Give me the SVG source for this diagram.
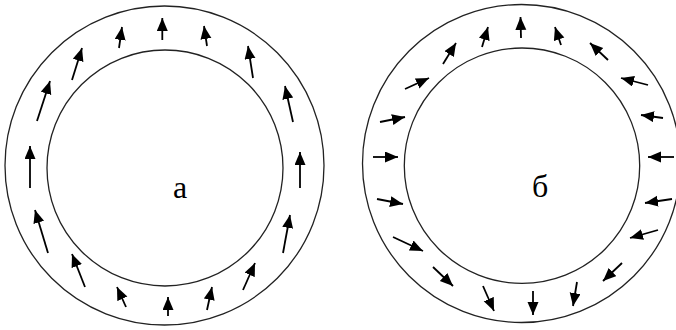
<svg xmlns="http://www.w3.org/2000/svg" width="676" height="330" viewBox="0 0 676 330">
<style>
.ring{fill:none;stroke:#222;stroke-width:1.3}
.arr line{stroke:#000;stroke-width:1.8;marker-end:url(#ah)}
.lbl{font-family:"Liberation Serif","Times New Roman",serif;font-size:32px;fill:#000}
</style>
<defs>
<marker id="ah" markerUnits="userSpaceOnUse" markerWidth="14" markerHeight="12" refX="13" refY="5.5" orient="auto">
<path d="M0,0 L13,5.5 L0,11 z" fill="#000"/>
</marker>
</defs>
<rect width="676" height="330" fill="#fff"/>
<g id="ring-a">
<circle class="ring" cx="164.5" cy="165.5" r="159.5"/>
<circle class="ring" cx="165" cy="168" r="118"/>
<text class="lbl" x="173" y="198">а</text>
</g>
<g id="ring-b">
<circle class="ring" cx="521.5" cy="163.5" r="159"/>
<circle class="ring" cx="522" cy="165.7" r="117.7"/>
<text class="lbl" x="532" y="197">б</text>
</g>
<g id="connectors">
<g class="arr" id="arrows-a">
<line x1="162.3" y1="40" x2="162.3" y2="18"/>
<line x1="119" y1="48" x2="122" y2="27"/>
<line x1="207" y1="46" x2="204" y2="26"/>
<line x1="72" y1="80" x2="82" y2="48"/>
<line x1="253" y1="78" x2="248" y2="46"/>
<line x1="37" y1="121" x2="50" y2="81"/>
<line x1="293" y1="122" x2="285" y2="86"/>
<line x1="30" y1="188" x2="30" y2="146"/>
<line x1="300" y1="188" x2="300" y2="152"/>
<line x1="48" y1="253" x2="35" y2="210"/>
<line x1="283" y1="253" x2="290" y2="215"/>
<line x1="85" y1="287" x2="72" y2="254"/>
<line x1="243" y1="290" x2="255" y2="263"/>
<line x1="126" y1="307" x2="117" y2="287"/>
<line x1="168" y1="316" x2="168" y2="297"/>
<line x1="207" y1="310" x2="212" y2="287"/>
</g>
<g class="arr" id="arrows-b">
<line x1="521" y1="38" x2="520.5" y2="17"/>
<line x1="482" y1="47" x2="488" y2="27"/>
<line x1="561" y1="45" x2="555" y2="27"/>
<line x1="443" y1="64" x2="456" y2="43"/>
<line x1="608" y1="60" x2="590" y2="43"/>
<line x1="405" y1="89" x2="429" y2="78"/>
<line x1="648" y1="85" x2="621" y2="78"/>
<line x1="380" y1="122" x2="405" y2="117"/>
<line x1="663" y1="118" x2="641" y2="115"/>
<line x1="373" y1="157" x2="398" y2="157"/>
<line x1="674" y1="157" x2="648" y2="157"/>
<line x1="377" y1="199" x2="403" y2="204"/>
<line x1="672" y1="199" x2="645" y2="203"/>
<line x1="393" y1="237" x2="423" y2="251"/>
<line x1="658" y1="230" x2="630" y2="238"/>
<line x1="433" y1="267" x2="453" y2="286"/>
<line x1="622" y1="263" x2="603" y2="281"/>
<line x1="483" y1="286" x2="494" y2="311"/>
<line x1="533" y1="291" x2="533" y2="315"/>
<line x1="577" y1="282" x2="573" y2="306"/>
</g>
</g>
</svg>
